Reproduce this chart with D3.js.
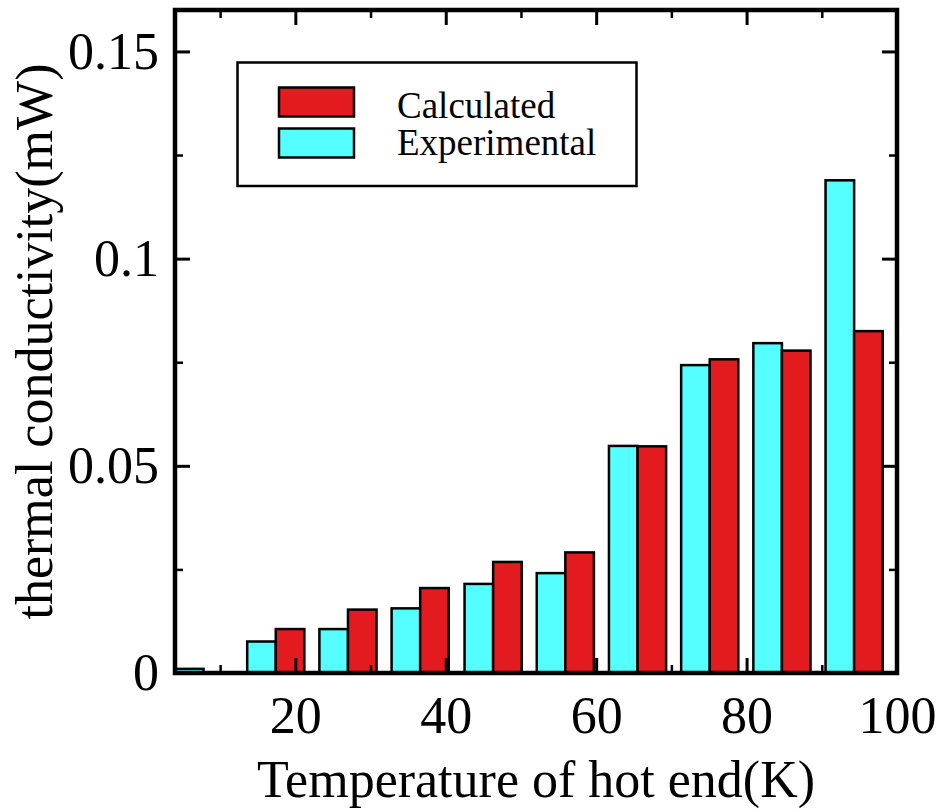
<!DOCTYPE html>
<html>
<head>
<meta charset="utf-8">
<script src="https://cdn.jsdelivr.net/npm/d3@7/dist/d3.min.js"></script>
<style>
  html, body { margin: 0; padding: 0; background: #fff; }
  svg { display: block; }
  text { font-family: "Liberation Serif", "DejaVu Serif", serif; fill: #000; }
</style>
</head>
<body>
<svg id="chart" width="943" height="809"></svg>
<script>
// ---- data ----
const temperatures = [7.8, 17.4, 27.0, 36.6, 46.3, 55.9, 65.5, 75.1, 84.7, 94.3];
const experimental = [0.001, 0.0076, 0.0106, 0.0156, 0.0215, 0.0241, 0.0548, 0.0743, 0.0796, 0.1189];
const calculated   = [0.0, 0.0106, 0.0153, 0.0205, 0.0268, 0.0291, 0.0547, 0.0757, 0.0778, 0.0825];
const seriesNames = ["Calculated", "Experimental"];
const xMajorTicks = [20, 40, 60, 80, 100];
const xMinorTicks = [10, 30, 50, 70, 90];
const yMajorTicks = [0, 0.05, 0.1, 0.15];
const yMinorTicks = [0.025, 0.075, 0.125];
const xTitle = "Temperature of hot end(K)";
const yTitle = "thermal conductivity(mW)";

// ---- layout ----
const L = 175, R = 897, T = 10, B = 673;
const barW = 3.8; // bar width in x-data units
const colors = { Calculated: "#e41b1e", Experimental: "#56ffff" };

const svg = d3.select("#chart");
const x = d3.scaleLinear().domain([4, 100]).range([L, R]);
const y = d3.scaleLinear().domain([0, 0.16]).range([B, T]);

svg.append("defs").append("clipPath").attr("id", "plotclip")
  .append("rect").attr("x", L).attr("y", T).attr("width", R - L).attr("height", B - T);

// ---- bars ----
const rows = temperatures.map((t, i) => ({ t, exp: experimental[i], calc: calculated[i] }));
const gBars = svg.append("g").attr("clip-path", "url(#plotclip)");
gBars.selectAll("rect.exp").data(rows.filter(d => d.exp > 0)).join("rect")
  .attr("class", "exp")
  .attr("x", d => x(d.t - barW))
  .attr("width", d => x(d.t) - x(d.t - barW))
  .attr("y", d => y(d.exp))
  .attr("height", d => y(0) - y(d.exp))
  .attr("fill", colors.Experimental)
  .attr("stroke", "#000").attr("stroke-width", 2.5);
gBars.selectAll("rect.calc").data(rows.filter(d => d.calc > 0)).join("rect")
  .attr("class", "calc")
  .attr("x", d => x(d.t))
  .attr("width", d => x(d.t + barW) - x(d.t))
  .attr("y", d => y(d.calc))
  .attr("height", d => y(0) - y(d.calc))
  .attr("fill", colors.Calculated)
  .attr("stroke", "#000").attr("stroke-width", 2.5);

// ---- axes ----
function styleAxis(g, width) {
  g.select(".domain").remove();
  g.selectAll(".tick line").attr("stroke", "#000").attr("stroke-width", width);
  g.selectAll(".tick text").style("font-family", '"Liberation Serif", serif').style("font-size", "52px").attr("fill", "#000");
}
const yFmt = d => d === 0 ? "0" : d3.format("~g")(d);

svg.append("g").attr("transform", `translate(0,${B})`)
  .call(d3.axisBottom(x).tickValues(xMajorTicks).tickSize(-15).tickPadding(23))
  .call(g => styleAxis(g, 3));
svg.append("g").attr("transform", `translate(0,${B})`)
  .call(d3.axisBottom(x).tickValues(xMinorTicks).tickSize(-8).tickFormat(""))
  .call(g => styleAxis(g, 2.5));
svg.append("g").attr("transform", `translate(0,${T})`)
  .call(d3.axisTop(x).tickValues(xMajorTicks).tickSize(-15).tickFormat(""))
  .call(g => styleAxis(g, 3));
svg.append("g").attr("transform", `translate(0,${T})`)
  .call(d3.axisTop(x).tickValues(xMinorTicks).tickSize(-8).tickFormat(""))
  .call(g => styleAxis(g, 2.5));

svg.append("g").attr("transform", `translate(${L},0)`)
  .call(d3.axisLeft(y).tickValues(yMajorTicks).tickSize(-15).tickPadding(16).tickFormat(yFmt))
  .call(g => styleAxis(g, 3));
svg.append("g").attr("transform", `translate(${L},0)`)
  .call(d3.axisLeft(y).tickValues(yMinorTicks).tickSize(-8).tickFormat(""))
  .call(g => styleAxis(g, 2.5));
svg.append("g").attr("transform", `translate(${R},0)`)
  .call(d3.axisRight(y).tickValues(yMajorTicks).tickSize(-15).tickFormat(""))
  .call(g => styleAxis(g, 3));
svg.append("g").attr("transform", `translate(${R},0)`)
  .call(d3.axisRight(y).tickValues(yMinorTicks).tickSize(-8).tickFormat(""))
  .call(g => styleAxis(g, 2.5));

// frame
svg.append("rect").attr("x", L).attr("y", T).attr("width", R - L).attr("height", B - T)
  .attr("fill", "none").attr("stroke", "#000").attr("stroke-width", 4.5);

// ---- titles ----
svg.append("text").attr("x", (L + R) / 2).attr("y", 797).attr("text-anchor", "middle")
  .style("font-size", "52px").text(xTitle);
svg.append("text").attr("transform", `translate(52,${(T + B) / 2}) rotate(-90)`)
  .attr("text-anchor", "middle").style("font-size", "52px").text(yTitle);

// ---- legend ----
const lg = svg.append("g");
lg.append("rect").attr("x", 237.5).attr("y", 62.5).attr("width", 399).attr("height", 123.5)
  .attr("fill", "#fff").attr("stroke", "#000").attr("stroke-width", 2.5);
const legendRows = [
  { name: seriesNames[0], sy: 87.5, ty: 117.5 },
  { name: seriesNames[1], sy: 128.5, ty: 155 }
];
legendRows.forEach(r => {
  lg.append("rect").attr("x", 279).attr("y", r.sy).attr("width", 75).attr("height", 29)
    .attr("fill", colors[r.name]).attr("stroke", "#000").attr("stroke-width", 2.5);
  lg.append("text").attr("x", 397).attr("y", r.ty).style("font-size", "37px").text(r.name);
});
</script>
</body>
</html>
